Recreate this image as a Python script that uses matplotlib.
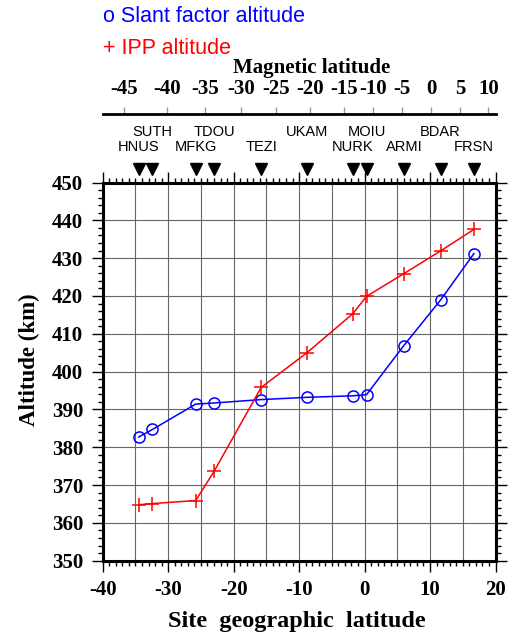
import numpy as np
import matplotlib
matplotlib.use("Agg")
import matplotlib.pyplot as plt

plt.rcParams['axes.unicode_minus'] = False

# stations, south to north
stations = ['HNUS', 'SUTH', 'MFKG', 'TDOU', 'TEZI', 'UKAM',
            'NURK', 'MOIU', 'ARMI', 'BDAR', 'FRSN']
geo_lat = [-34.5, -32.4, -25.8, -23.0, -15.8, -8.8, -1.8, 0.3, 6.0, 11.6, 16.7]
slant_alt = [382.7, 384.7, 391.4, 391.7, 392.6, 393.2, 393.6, 393.9, 406.9, 418.9, 431.2]
ipp_alt = [364.8, 365.1, 365.9, 373.6, 395.8, 405.0, 415.3, 419.9, 425.9, 431.9, 437.6]

# magnetic latitude ticks and where they fall in geographic latitude
mag_ticks = [-45, -40, -35, -30, -25, -20, -15, -10, -5, 0, 5, 10]
mag_tick_geo = [-36.7, -30.2, -24.4, -18.8, -13.5, -8.4, -3.2, 1.3, 5.7, 10.2, 14.6, 18.9]

serif = 'Liberation Serif'
sans = 'Liberation Sans'

W, H = 510, 636
fig = plt.figure(figsize=(W / 100, H / 100), dpi=100)
left, right, top, bottom = 102.7, 495.5, 182.5, 560.7
ax = fig.add_axes([left / W, 1 - bottom / H, (right - left) / W, (bottom - top) / H])

ax.set_xlim(-40, 20)
ax.set_ylim(350, 450)

for gx in np.arange(-35, 20, 5):
    ax.axvline(gx, color='#666666', lw=0.8, zorder=0)
for gy in np.arange(360, 450, 10):
    ax.axhline(gy, color='#666666', lw=0.8, zorder=0)

ax.plot(geo_lat, slant_alt, color='blue', lw=1.1, marker='o', ms=8,
        mfc='none', mec='blue', mew=1.1, zorder=3)
ax.plot(geo_lat, ipp_alt, color='red', lw=1.1, marker='+', ms=9.5,
        mec='red', mew=1.1, zorder=3)

ax.set_xticks(np.arange(-40, 21, 10))
ax.set_xticks(np.arange(-40, 21, 1), minor=True)
ax.set_yticks(np.arange(350, 451, 10))
ax.set_yticks(np.arange(350, 451, 2), minor=True)
ax.tick_params(which='both', direction='out', top=True, right=True,
               labeltop=False, labelright=False, width=1, color='black')
ax.tick_params(which='major', length=8, pad=6)
ax.tick_params(which='minor', length=3.6)
for lab in ax.get_xticklabels() + ax.get_yticklabels():
    lab.set_fontfamily(serif)
    lab.set_fontweight('bold')
    lab.set_fontsize(15)
for sp in ax.spines.values():
    sp.set_linewidth(2.2)

fig.text(297 / W, 1 - 621 / H, 'Site  geographic  latitude', family=serif,
         weight='bold', fontsize=17.5, ha='center', va='center')
fig.text(29 / W, 1 - 360 / H, 'Altitude (km)', family=serif, weight='bold',
         fontsize=16.5, ha='center', va='center', rotation=90)

# station markers above the frame
trans = ax.get_xaxis_transform()
ax.plot(geo_lat, [1.0357] * len(geo_lat), linestyle='none', marker='v', ms=8,
        color='black', transform=trans, clip_on=False)
for i, (name, lat) in enumerate(zip(stations, geo_lat)):
    yrow = 1.093 if i % 2 == 0 else 1.133
    ax.text(lat, yrow, name, transform=trans, ha='center', va='center',
            family=sans, fontsize=10.5, clip_on=False)

# magnetic latitude axis
axm = fig.add_axes([left / W, 1 - 114.3 / H, (right - left) / W, 1e-4])
axm.set_xlim(-40, 20)
axm.patch.set_visible(False)
for side in ['left', 'right', 'bottom']:
    axm.spines[side].set_visible(False)
axm.spines['top'].set_linewidth(2)
axm.set_yticks([])
axm.xaxis.tick_top()
axm.set_xticks(mag_tick_geo)
axm.set_xticklabels([str(m) for m in mag_ticks], family=serif,
                    fontweight='bold', fontsize=15)
axm.tick_params(axis='x', direction='out', length=5, width=1,
                color='#999999', pad=6)
fig.text(311.7 / W, 1 - 68 / H, 'Magnetic latitude', family=serif,
         weight='bold', fontsize=15, ha='center', va='center')

fig.text(103 / W, 1 - 17 / H, 'o Slant factor altitude', family=sans,
         fontsize=15.5, color='blue', ha='left', va='center')
fig.text(103 / W, 1 - 48 / H, '+ IPP altitude', family=sans,
         fontsize=15.5, color='red', ha='left', va='center')

fig.savefig('out.png', dpi=100)
